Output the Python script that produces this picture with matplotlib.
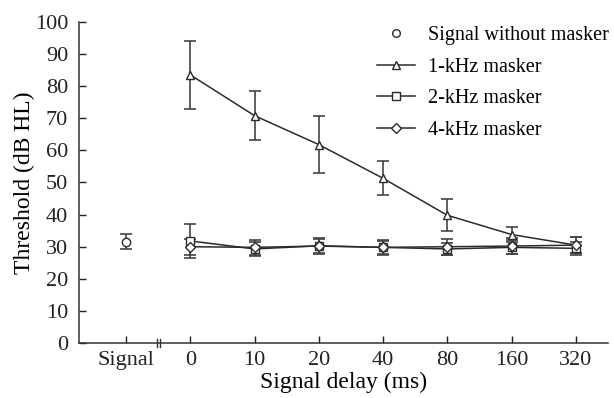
import matplotlib
matplotlib.use("Agg")
import matplotlib.pyplot as plt
from matplotlib.lines import Line2D

plt.rcParams['font.family'] = ['Liberation Serif', 'DejaVu Serif']

delays = ['0', '10', '20', '40', '80', '160', '320']
signal_alone = 31.6
signal_alone_err = 2.4
one_khz = [83.5, 70.8, 61.8, 51.3, 39.8, 33.8, 30.5]
one_khz_err = [10.7, 7.6, 9.0, 5.3, 5.0, 2.2, 2.6]
two_khz = [31.8, 29.3, 30.3, 29.8, 29.3, 29.8, 29.5]
two_khz_err = [5.3, 2.3, 2.5, 2.3, 2.0, 2.2, 2.0]
four_khz = [30.0, 29.8, 30.2, 29.8, 30.0, 30.2, 30.5]
four_khz_err = [2.5, 2.3, 2.2, 2.0, 2.5, 2.5, 2.5]

col = '#2b2b2b'
xs = list(range(1, len(delays) + 1))

fig = plt.figure(figsize=(6.14, 3.98), dpi=100)
ax = fig.add_axes([0.129, 0.138, 0.861, 0.807])

common = dict(color=col, mfc='white', mec=col, ms=6, lw=1.1,
              elinewidth=1.2, capsize=4, capthick=1.2, ecolor='#444444')
ax.errorbar([0], [signal_alone], yerr=[signal_alone_err], fmt='o', **common)
ax.errorbar(xs, one_khz, yerr=one_khz_err, fmt='-^', **common)
ax.errorbar(xs, two_khz, yerr=two_khz_err, fmt='-s', **common)
ax.errorbar(xs, four_khz, yerr=four_khz_err, fmt='-D', **dict(common, ms=5.5))

ax.set_xlim(-0.73, 7.5)
ax.set_ylim(0, 100)
ax.set_xticks([0] + xs)
ax.set_xticklabels(['Signal'] + delays)
ax.set_yticks(range(0, 101, 10))
ax.tick_params(direction='in', length=5, width=1, colors='#222222', labelsize=16)
ax.tick_params(axis='y', pad=8)
ax.tick_params(axis='x', pad=6)
ax.spines['top'].set_visible(False)
ax.spines['right'].set_visible(False)
for s in ['left', 'bottom']:
    ax.spines[s].set_linewidth(1.1)
    ax.spines[s].set_color('#333333')

# axis break marks
trans = ax.get_xaxis_transform()
for dx in (-0.025, 0.025):
    ax.plot([0.5 + dx, 0.5 + dx], [-0.012, 0.012], transform=trans, color='#333333',
            lw=1.0, clip_on=False)

ax.set_xlabel('Signal delay (ms)', fontsize=17, labelpad=1)
ax.set_ylabel('Threshold (dB HL)', fontsize=17, labelpad=0)

handles = [
    Line2D([], [], ls='none', marker='o', color=col, mfc='white', ms=5.5),
    Line2D([], [], ls='-', marker='^', color=col, mfc='white', ms=6, lw=1.1),
    Line2D([], [], ls='-', marker='s', color=col, mfc='white', ms=5.5, lw=1.1),
    Line2D([], [], ls='-', marker='D', color=col, mfc='white', ms=5.5, lw=1.1),
]
labels = ['Signal without masker', '1-kHz masker', '2-kHz masker', '4-kHz masker']
ax.legend(handles, labels, loc='upper left', bbox_to_anchor=(377 / 614, 1 - 26 / 398),
          bbox_transform=fig.transFigure, frameon=False, fontsize=14.5, borderpad=0,
          borderaxespad=0, handlelength=1.9, labelspacing=0.62, handletextpad=0.65)

fig.savefig('out.png', dpi=100)
